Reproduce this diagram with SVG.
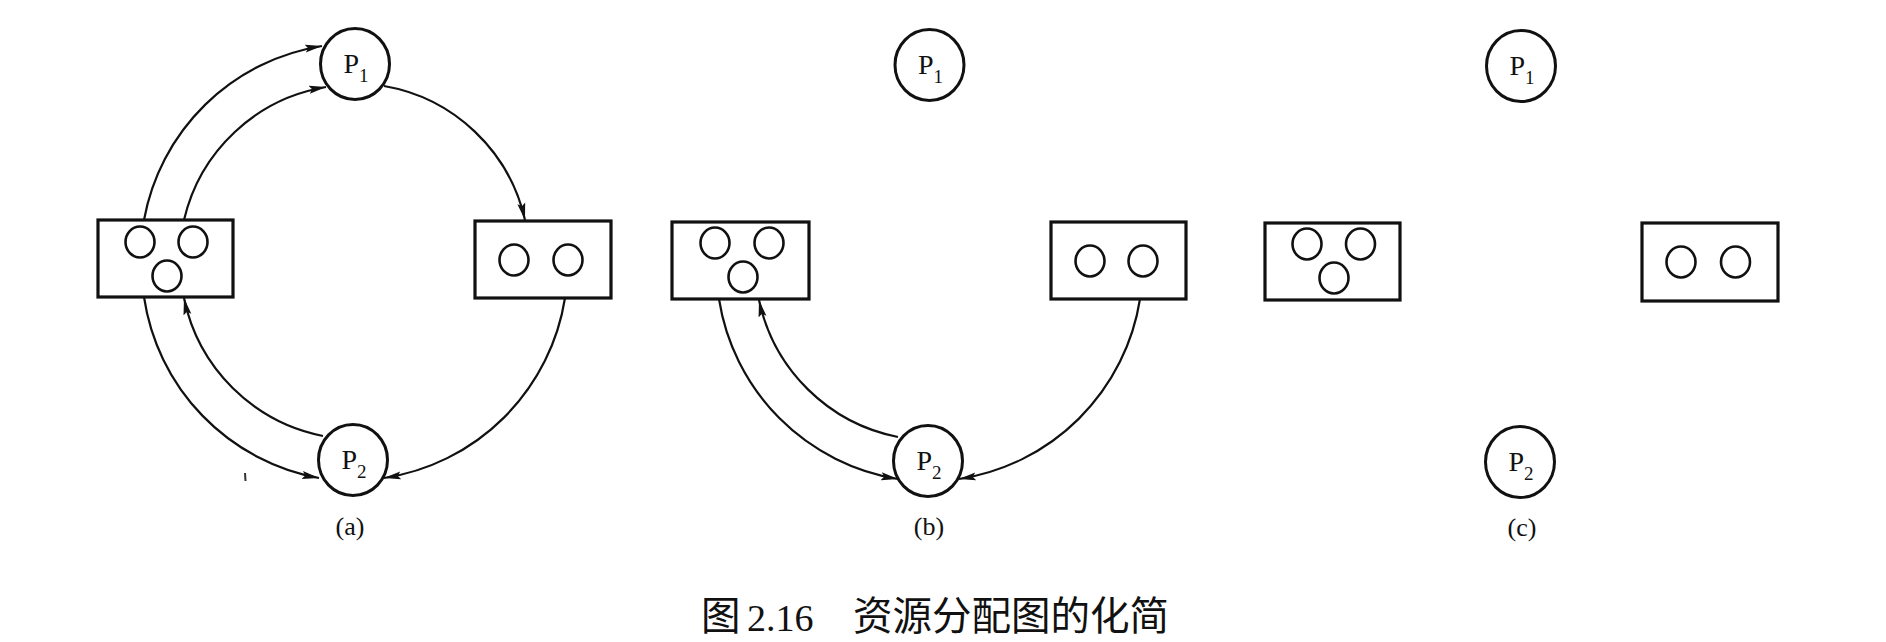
<svg xmlns="http://www.w3.org/2000/svg" width="1886" height="642" viewBox="0 0 1886 642">
<style>
.proc{fill:#fff;stroke:#111;stroke-width:3}
.res{fill:#fff;stroke:#111;stroke-width:3.2}
.unit{fill:none;stroke:#111;stroke-width:2.6}
.edge{fill:none;stroke:#111;stroke-width:2.2}
.lbl{font-family:"Liberation Serif","Times New Roman",serif;fill:#111}
.cap{font-family:"Noto Sans CJK SC","Noto Sans CJK JP",sans-serif;fill:#111}
</style>
<defs>
<marker id="ah" markerUnits="userSpaceOnUse" markerWidth="18" markerHeight="10" refX="17" refY="5" orient="auto">
<path d="M0,1 L17,5 L0,9 L3,5 z" fill="#111"/>
</marker>
</defs>
<rect width="1886" height="642" fill="#fff"/>

<g id="connectors">
<path class="edge" marker-end="url(#ah)" d="M144,220 A215,215 0 0 1 322,46"/>
<path class="edge" marker-end="url(#ah)" d="M184,220 A175,175 0 0 1 326,87"/>
<path class="edge" marker-end="url(#ah)" d="M384,86 A175,175 0 0 1 525,220"/>
<path class="edge" marker-end="url(#ah)" d="M144,297 A216,216 0 0 0 319,478"/>
<path class="edge" marker-end="url(#ah)" d="M323,436 A177,177 0 0 1 184,298"/>
<path class="edge" marker-end="url(#ah)" d="M565,298 A216,216 0 0 1 384,478"/>
<path class="edge" marker-end="url(#ah)" d="M719,299 A216,216 0 0 0 898,479"/>
<path class="edge" marker-end="url(#ah)" d="M898,437 A177,177 0 0 1 759,300"/>
<path class="edge" marker-end="url(#ah)" d="M1140,299 A216,216 0 0 1 959,479"/>
</g>

<!-- panel (a) -->
<g id="a-P1"><ellipse class="proc" cx="355" cy="64" rx="34.5" ry="35.5"/><text class="lbl" x="356" y="73" font-size="28" text-anchor="middle">P<tspan font-size="19" dy="9">1</tspan></text></g>
<g id="a-P2"><ellipse class="proc" cx="353" cy="460" rx="34.5" ry="35.5"/><text class="lbl" x="354" y="469" font-size="28" text-anchor="middle">P<tspan font-size="19" dy="9">2</tspan></text></g>
<g id="a-R1"><rect class="res" x="98" y="220" width="135" height="77"/><ellipse class="unit" cx="140" cy="242" rx="14.5" ry="15.5"/><ellipse class="unit" cx="193" cy="242" rx="14.5" ry="15.5"/><ellipse class="unit" cx="167" cy="276" rx="14.5" ry="15.5"/></g>
<g id="a-R2"><rect class="res" x="475" y="221" width="136" height="77"/><ellipse class="unit" cx="514" cy="260" rx="14.5" ry="15.5"/><ellipse class="unit" cx="568" cy="260" rx="14.5" ry="15.5"/></g>
<line x1="245" y1="473" x2="245.5" y2="481" stroke="#333" stroke-width="2"/>
<text class="lbl" x="350" y="535" font-size="26" text-anchor="middle">(a)</text>

<!-- panel (b) -->
<g id="b-P1"><ellipse class="proc" cx="929.5" cy="65" rx="34.5" ry="35.5"/><text class="lbl" x="930.5" y="74" font-size="28" text-anchor="middle">P<tspan font-size="19" dy="9">1</tspan></text></g>
<g id="b-P2"><ellipse class="proc" cx="928" cy="461" rx="34.5" ry="35.5"/><text class="lbl" x="929" y="470" font-size="28" text-anchor="middle">P<tspan font-size="19" dy="9">2</tspan></text></g>
<g id="b-R1"><rect class="res" x="672" y="222" width="137" height="77"/><ellipse class="unit" cx="715" cy="243" rx="14.5" ry="15.5"/><ellipse class="unit" cx="769" cy="243" rx="14.5" ry="15.5"/><ellipse class="unit" cx="743" cy="277" rx="14.5" ry="15.5"/></g>
<g id="b-R2"><rect class="res" x="1051" y="222" width="135" height="77"/><ellipse class="unit" cx="1090" cy="261" rx="14.5" ry="15.5"/><ellipse class="unit" cx="1143" cy="261" rx="14.5" ry="15.5"/></g>
<text class="lbl" x="929" y="535" font-size="26" text-anchor="middle">(b)</text>

<!-- panel (c) -->
<g id="c-P1"><ellipse class="proc" cx="1521" cy="66" rx="34.5" ry="35.5"/><text class="lbl" x="1522" y="75" font-size="28" text-anchor="middle">P<tspan font-size="19" dy="9">1</tspan></text></g>
<g id="c-P2"><ellipse class="proc" cx="1520" cy="462" rx="34.5" ry="35.5"/><text class="lbl" x="1521" y="471" font-size="28" text-anchor="middle">P<tspan font-size="19" dy="9">2</tspan></text></g>
<g id="c-R1"><rect class="res" x="1265" y="223" width="135" height="77"/><ellipse class="unit" cx="1307" cy="244" rx="14.5" ry="15.5"/><ellipse class="unit" cx="1360.5" cy="244" rx="14.5" ry="15.5"/><ellipse class="unit" cx="1334" cy="278" rx="14.5" ry="15.5"/></g>
<g id="c-R2"><rect class="res" x="1642" y="223" width="136" height="78"/><ellipse class="unit" cx="1681" cy="262" rx="14.5" ry="15.5"/><ellipse class="unit" cx="1735.5" cy="262" rx="14.5" ry="15.5"/></g>
<text class="lbl" x="1522" y="536" font-size="26" text-anchor="middle">(c)</text>

<text class="cap" x="701" y="630" font-size="39.5">图</text>
<text class="lbl" x="747" y="631" font-size="38">2.16</text>
<text class="cap" x="853" y="630" font-size="39.5">资源分配图的化简</text>
</svg>
